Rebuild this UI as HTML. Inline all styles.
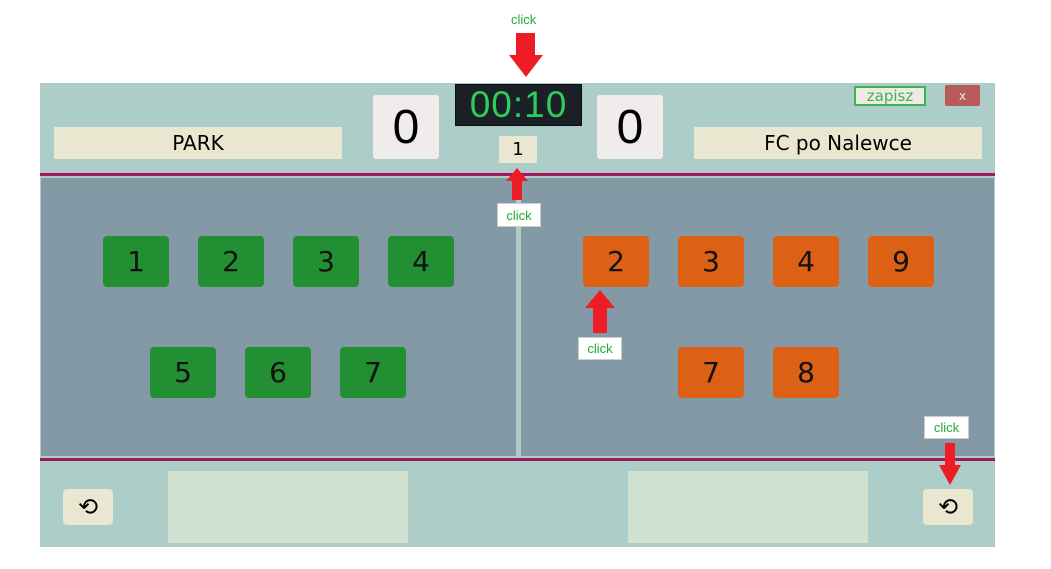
<!DOCTYPE html>
<html><head><meta charset="utf-8"><style>
body{margin:0;width:1051px;height:569px;background:#fff;position:relative;overflow:hidden;font-family:"DejaVu Sans","Liberation Sans",sans-serif}
div{position:absolute;box-sizing:border-box}
.c{display:flex;align-items:center;justify-content:center}
.g{background:#228f32;border-radius:4px;width:66px;height:51px;font-size:28px;color:#111}
.o{background:#dd6114;border-radius:4px;width:66px;height:51px;font-size:28px;color:#111}
.lbl{background:#fff;color:#22aa33;font-size:13px;border:1px solid #ccc;font-family:"Liberation Sans",sans-serif}
</style></head><body>
<div style="left:40px;top:83px;width:955px;height:91px;background:#adcdc8"></div>
<div style="left:40px;top:173px;width:955px;height:3px;background:#a0185a"></div>
<div style="left:40px;top:176px;width:955px;height:282px;background:#adcdc8"></div>
<div style="left:41px;top:178px;width:475px;height:278px;background:#8499a6"></div>
<div style="left:521px;top:178px;width:473px;height:278px;background:#8499a6"></div>
<div style="left:40px;top:458px;width:955px;height:3px;background:#a0185a"></div>
<div style="left:40px;top:461px;width:955px;height:86px;background:#adcdc8"></div>

<div class="c" style="left:455px;top:84px;width:127px;height:42px;background:#1b1f26;color:#2ecc5a;font-size:37px;letter-spacing:1px;border:1px solid #0b0e12;font-family:'Liberation Sans',sans-serif">00:10</div>
<div class="c" style="left:373px;top:95px;width:66px;height:64px;background:#efeceb;border-radius:3px;font-size:48px;font-family:'Liberation Sans',sans-serif">0</div>
<div class="c" style="left:597px;top:95px;width:66px;height:64px;background:#efeceb;border-radius:3px;font-size:48px;font-family:'Liberation Sans',sans-serif">0</div>
<div class="c" style="left:499px;top:136px;width:38px;height:27px;background:#e9e7cf;font-size:18px">1</div>
<div class="c" style="left:54px;top:127px;width:288px;height:32px;background:#e9e7cf;font-size:20px">PARK</div>
<div class="c" style="left:694px;top:127px;width:288px;height:32px;background:#e9e7cf;font-size:20px">FC po Nalewce</div>
<div class="c" style="left:854px;top:86px;width:72px;height:20px;background:#eeeae8;border:2px solid #3fb44b;color:#3fb44b;font-size:15px">zapisz</div>
<div class="c" style="left:945px;top:85px;width:35px;height:21px;background:#b85a5a;color:#eee;font-size:12px;border-radius:2px">x</div>

<div class="c g" style="left:103px;top:236px">1</div>
<div class="c g" style="left:198px;top:236px">2</div>
<div class="c g" style="left:293px;top:236px">3</div>
<div class="c g" style="left:388px;top:236px">4</div>
<div class="c g" style="left:150px;top:347px">5</div>
<div class="c g" style="left:245px;top:347px">6</div>
<div class="c g" style="left:340px;top:347px">7</div>
<div class="c o" style="left:583px;top:236px">2</div>
<div class="c o" style="left:678px;top:236px">3</div>
<div class="c o" style="left:773px;top:236px">4</div>
<div class="c o" style="left:868px;top:236px">9</div>
<div class="c o" style="left:678px;top:347px">7</div>
<div class="c o" style="left:773px;top:347px">8</div>

<div class="c" style="left:63px;top:489px;width:50px;height:36px;background:#e9e7cf;border-radius:4px;font-size:24px">⟲</div>
<div class="c" style="left:923px;top:489px;width:50px;height:36px;background:#e9e7cf;border-radius:4px;font-size:24px">⟲</div>
<div style="left:168px;top:471px;width:240px;height:72px;background:#d1e1cf"></div>
<div style="left:628px;top:471px;width:240px;height:72px;background:#d1e1cf"></div>

<div style="left:511px;top:12px;color:#22aa33;font-size:13px;font-family:'Liberation Sans',sans-serif">click</div>
<svg width="1051" height="569" style="position:absolute;left:0;top:0">
<polygon points="516,33 535,33 535,55 543,55 526,77 509,55 516,55" fill="#ee1c24"/>
<polygon points="517,168 528,181 522,181 522,200 512,200 512,181 506,181" fill="#ee1c24"/>
<polygon points="600,290 615,308 607,308 607,333 593,333 593,308 585,308" fill="#ee1c24"/>
<polygon points="945,443 955,443 955,465 961,465 950,485 939,465 945,465" fill="#ee1c24"/>
</svg>
<div class="c lbl" style="left:497px;top:203px;width:44px;height:24px">click</div>
<div class="c lbl" style="left:578px;top:337px;width:44px;height:23px">click</div>
<div class="c lbl" style="left:924px;top:416px;width:45px;height:23px">click</div>
</body></html>
